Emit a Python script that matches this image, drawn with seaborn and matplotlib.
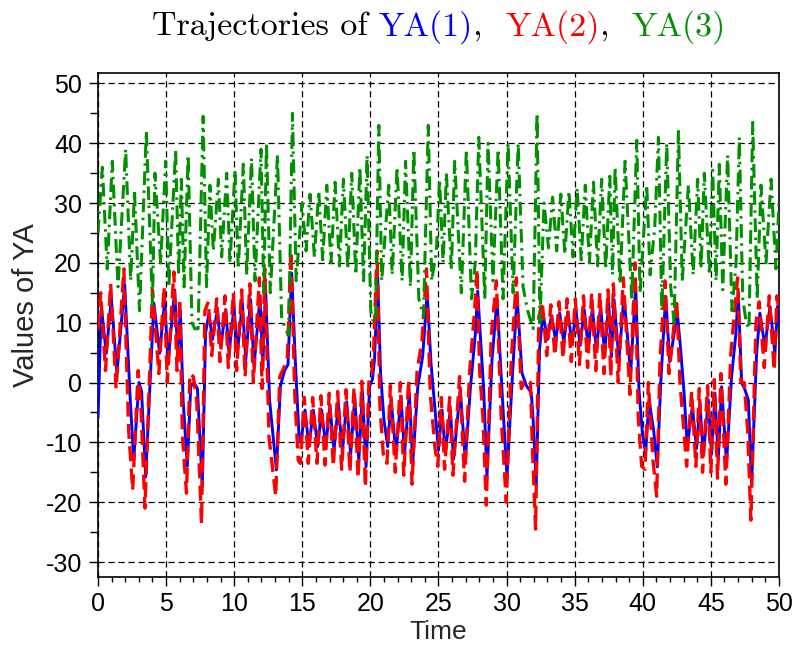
import matplotlib
matplotlib.use("Agg")
import matplotlib.pyplot as plt
from matplotlib.ticker import MultipleLocator
import numpy as np
import pandas as pd
import seaborn as sns

# YA(1): turning points (time, value)
ya1_t = [0.00, 0.24, 0.61, 0.98, 1.39, 1.96, 2.35, 2.62, 3.01, 3.20, 3.50, 4.10, 4.53, 4.90, 5.14,
         5.63, 5.85, 6.05, 6.25, 6.56, 6.81, 7.05, 7.30, 7.66, 7.90, 8.15, 8.40, 8.77, 9.01, 9.38,
         9.62, 9.99, 10.23, 10.60, 10.85, 11.20, 11.46, 11.90, 12.10, 12.30, 12.60, 13.10, 13.40,
         13.70, 13.95, 14.22, 14.50, 14.75, 14.90, 15.20, 15.49, 15.81, 16.13, 16.42, 16.72, 17.03,
         17.33, 17.65, 17.94, 18.26, 18.55, 18.85, 19.15, 19.42, 19.68, 19.95, 20.15, 20.30, 20.54,
         20.75, 21.00, 21.27, 21.52, 21.88, 22.25, 22.50, 22.86, 23.11, 23.48, 23.84, 24.17, 24.45,
         24.80, 25.00, 25.26, 25.50, 25.87, 26.11, 26.60, 26.97, 27.34, 27.70, 27.88, 28.07, 28.32,
         28.56, 28.93, 29.30, 29.66, 30.03, 30.40, 30.77, 31.13, 31.45, 31.81, 31.93, 32.18, 32.42,
         32.67, 33.00, 33.30, 33.60, 33.90, 34.20, 34.50, 34.80, 35.10, 35.40, 35.70, 36.00, 36.30,
         36.60, 36.90, 37.20, 37.50, 37.70, 37.89, 38.25, 38.62, 39.11, 39.48, 39.72, 39.97, 40.21,
         40.46, 40.80, 41.07, 41.32, 41.68, 41.98, 42.54, 42.78, 43.03, 43.27, 43.64, 43.95, 44.20,
         44.44, 44.81, 45.05, 45.30, 45.54, 45.79, 46.15, 46.52, 46.83, 47.01, 47.26, 47.50, 47.75,
         47.99, 48.36, 48.60, 48.97, 49.34, 49.70, 49.90, 50.00]
ya1_v = [-6, 12.7, 4.9, 14.1, 1.6, 16.4, -2, -13, 0, -1.5, -15.8, 13.3, 4.9, 13.9, 3.2,
         15.5, 5, 12, -3, -14, -0.7, 0, -1, -17.4, 8.3, 11.6, 7.2, 12.2, 6.0, 12.2,
         4.9, 12.7, 4.9, 13.3, 3.8, 13.9, 2.7, 14.5, 2.5, 16.0, -3, -14.6, -0.5,
         2, 3, 18.3, 3, -8.5, -10, -4.6, -10.7, -4.6, -10.7, -4.6, -10.7, -4.0,
         -11.3, -3.5, -11.7, -3.2, -12, -2.5, -13, -1.5, -14.1, -0.5, 0.5, 3.8, 17.5,
         1.5, -6.3, -10.7, -2.9, -12, -2.3, -12, -1.8, -13.5, -0.7, 4.4, 15, 3.3,
         -5.9, -11.3, -4.6, -11.8, -4.6, -12.8, -1.2, -13, -1, 8, 15.3, 8, -1.2,
         -15.8, 3.8, 13.9, -1.2, -15.8, 0, 14.4, 1.6, -0.5, -1.7, -5.4, -16.9, 5.5,
         11.6, 7.2, 11.2, 7.0, 11.6, 6.8, 11.8, 6.5, 12, 6.2, 12.2, 5.8, 12.5,
         5.2, 12.8, 4.8, 13.3, 4.3, 13.9, 3.8, 14.4, 1.6, 16, -1.2, -8.4, -11.8,
         -2.9, -8, -14.1, 0, 14.4, 3.5, 11.6, 5.5, -1.7, -10.7, -4, -11, -3.4,
         -12.3, -2.9, -12, -1.8, -13, -0.7, -13.5, 1, 8, 15, 0, -1.2, -2.9,
         -16.9, 4.9, 11.6, 6, 12.7, 4.9, 12.7, 10]

# YA(2)
ya2_t = [0.00, 0.20, 0.55, 0.93, 1.33, 1.90, 2.25, 2.55, 2.95, 3.15, 3.45, 4.00, 4.47, 4.85, 5.09,
         5.57, 5.80, 6.00, 6.20, 6.50, 6.75, 7.00, 7.25, 7.60, 7.85, 8.10, 8.35, 8.72, 8.96, 9.33,
         9.57, 9.94, 10.18, 10.55, 10.80, 11.15, 11.41, 11.85, 12.05, 12.25, 12.55, 13.05, 13.35,
         13.65, 13.90, 14.17, 14.45, 14.70, 14.85, 15.15, 15.44, 15.76, 16.08, 16.37, 16.67, 16.98,
         17.28, 17.60, 17.89, 18.21, 18.50, 18.80, 19.10, 19.37, 19.63, 19.90, 20.10, 20.25, 20.49,
         20.70, 20.95, 21.22, 21.47, 21.83, 22.20, 22.45, 22.81, 23.06, 23.43, 23.79, 24.12, 24.40,
         24.75, 24.95, 25.21, 25.45, 25.82, 26.06, 26.55, 26.92, 27.29, 27.65, 27.83, 28.02, 28.27,
         28.51, 28.88, 29.25, 29.61, 29.98, 30.35, 30.72, 31.08, 31.40, 31.76, 31.88, 32.13, 32.37,
         32.62, 32.95, 33.25, 33.55, 33.85, 34.15, 34.45, 34.75, 35.05, 35.35, 35.65, 35.95, 36.25,
         36.55, 36.85, 37.15, 37.45, 37.65, 37.84, 38.20, 38.57, 39.06, 39.43, 39.67, 39.92, 40.16,
         40.41, 40.75, 41.02, 41.27, 41.63, 41.93, 42.49, 42.73, 42.98, 43.22, 43.59, 43.90, 44.15,
         44.39, 44.76, 45.00, 45.25, 45.49, 45.74, 46.10, 46.47, 46.78, 46.96, 47.21, 47.45, 47.70,
         47.94, 48.31, 48.55, 48.92, 49.29, 49.65, 49.85, 50.00]
ya2_v = [9, 15, 2, 16.5, -1, 19, -8, -18, 2, -4, -21, 15.5, 1.5, 16, 0,
         18.5, 2, 14, -9, -18.5, 1.5, 1, -3, -23.6, 12, 13.5, 4.5, 14, 3.5, 14.5,
         2.5, 15, 2, 15.5, 1, 16.5, 0, 17.5, -1, 19, -9, -19, 1,
         2.5, 4, 22, -2, -13, -13.5, -2.5, -13.5, -2.5, -13.5, -2.2, -13.8, -1.8,
         -14, -1.5, -14.5, -1.2, -15, -0.8, -16, 0.2, -17.5, 0.5, 1.5, 6, 22,
         -4, -12, -13.5, -0.5, -15, 0, -15.5, 0.5, -17, 2, 7, 19, -2,
         -11, -14, -2.5, -14.5, -2.5, -15.5, 1, -16.5, 2, 12, 19, 2, -6,
         -20.5, 8, 17, -6, -20, 4, 17.5, -1, 0.5, 0, -10, -24.5, 11,
         13.5, 4.5, 13, 4.5, 13.5, 4, 14, 3.5, 14, 3, 14.5, 2.5, 15,
         2, 15, 1.5, 15.5, 1, 16.5, 0, 17.5, -2, 20, -6, -14, -14.5,
         0, -13, -19, 4, 17, 1.5, 14, 0, -7, -14, -1.5, -14, -1,
         -15, -0.5, -15, 0.5, -16, 1.5, -17, 5, 13, 17.5, 0, 0, -8,
         -23, 10, 13.5, 2.5, 14.5, 2, 14.5, 12]

# YA(3)
ya3_t = [0.00, 0.32, 0.68, 1.05, 1.47, 2.03, 2.40, 2.68, 3.05, 3.55, 4.00, 4.18, 4.60, 4.97, 5.20,
         5.70, 5.92, 6.12, 6.32, 6.62, 6.90, 7.10, 7.35, 7.72, 7.97, 8.22, 8.47, 8.84, 9.08, 9.45,
         9.69, 10.06, 10.30, 10.67, 10.92, 11.27, 11.53, 11.97, 12.17, 12.37, 12.65, 13.18, 13.48,
         13.75, 14.00, 14.28, 14.55, 14.98, 15.28, 15.57, 15.89, 16.21, 16.50, 16.80, 17.11, 17.41,
         17.73, 18.02, 18.34, 18.63, 18.93, 19.23, 19.50, 19.76, 20.03, 20.23, 20.38, 20.62, 20.83,
         21.35, 21.60, 21.96, 22.33, 22.58, 22.94, 23.19, 23.56, 23.90, 24.25, 24.50, 24.85, 25.08,
         25.34, 25.58, 25.95, 26.19, 26.68, 27.05, 27.42, 27.70, 27.96, 28.40, 28.64, 29.00, 29.38,
         29.74, 30.11, 30.48, 30.85, 31.21, 31.55, 31.95, 32.24, 32.45, 32.75, 33.08, 33.38, 33.68,
         33.98, 34.28, 34.58, 34.88, 35.18, 35.48, 35.78, 36.08, 36.38, 36.68, 36.98, 37.28, 37.58,
         37.78, 37.97, 38.33, 38.70, 39.19, 39.56, 39.80, 40.29, 40.54, 40.88, 41.15, 41.40, 41.76,
         42.05, 42.30, 42.62, 42.90, 43.35, 43.70, 44.03, 44.28, 44.52, 44.89, 45.13, 45.38, 45.62,
         45.87, 46.23, 46.55, 46.85, 47.09, 47.34, 47.60, 47.80, 48.07, 48.40, 48.68, 49.05, 49.42,
         49.78, 50.00]
ya3_v = [25, 36, 19, 37, 16, 39, 17, 32, 12, 42, 13, 35, 20, 37, 16,
         39, 18, 34, 16, 38, 10, 9, 9, 44.5, 16, 33, 22, 34, 21, 35,
         20, 35.5, 19, 36.5, 18, 37.5, 17, 39, 15, 40, 15, 38, 11,
         9, 8, 45, 17, 30, 22, 31.5, 21, 32, 20.5, 33, 20, 33.5,
         19.5, 34, 19, 35, 18, 36, 17, 38, 12, 10, 11, 43, 17,
         33, 18, 36, 17, 37, 16, 39, 14, 11, 43, 17, 22, 34,
         20, 35, 19, 37, 15, 39, 14, 20, 41, 14, 40, 17, 39,
         14, 40, 15, 40, 16, 12, 9, 45, 10, 30, 22.5, 31, 22,
         31.5, 21.5, 32, 21, 32.5, 20.5, 33, 20, 33.5, 19.5, 34, 19, 34.5,
         18, 36, 16.5, 37, 14, 40.5, 15, 33, 18, 26, 41, 12, 40,
         16, 10, 42, 17, 33, 18, 34, 19, 35, 18, 35.5, 17, 36.5,
         15.5, 38, 12, 20, 41, 14, 10, 9, 43.5, 14, 33, 20, 34,
         19, 30]

X_TICKS = list(range(0, 51, 5))
Y_TICKS = list(range(-30, 51, 10))

sns.set_style("ticks")
plt.rcParams["font.family"] = ["Liberation Sans", "DejaVu Sans"]
plt.rcParams["axes.unicode_minus"] = False

fig = plt.figure(figsize=(7.96, 6.49), dpi=100)
ax = fig.add_axes([0.1231, 0.1110, 0.8555, 0.7770])

green = "#009000"
df1 = pd.DataFrame({"t": ya1_t, "v": ya1_v})
df2 = pd.DataFrame({"t": ya2_t, "v": ya2_v})
df3 = pd.DataFrame({"t": ya3_t, "v": ya3_v})

sns.lineplot(data=df1, x="t", y="v", ax=ax, color="#0000ff", linewidth=2.1,
             estimator=None, sort=False, zorder=3)
sns.lineplot(data=df2, x="t", y="v", ax=ax, color="#ff0000", linewidth=2.4,
             estimator=None, sort=False, zorder=4)
ax.lines[-1].set_linestyle((0, (4.5, 2.2)))
sns.lineplot(data=df3, x="t", y="v", ax=ax, color=green, linewidth=2.2,
             estimator=None, sort=False, zorder=5)
ax.lines[-1].set_linestyle((0, (4.5, 1.8, 0.8, 1.8)))

ax.set_xlim(0, 50)
ax.set_ylim(-32.5, 51.8)
ax.set_xticks(X_TICKS)
ax.set_yticks(Y_TICKS)
ax.xaxis.set_minor_locator(MultipleLocator(1))
ax.yaxis.set_minor_locator(MultipleLocator(5))
ax.tick_params(axis="both", which="major", direction="out", length=6.5, width=1,
               labelsize=18, color="black", labelcolor="black")
ax.tick_params(axis="x", which="major", pad=4)
ax.tick_params(axis="y", which="major", pad=5)
ax.tick_params(axis="x", which="minor", direction="out", length=3.5, width=1, color="black")
ax.tick_params(axis="y", which="minor", direction="out", length=5.5, width=1, color="black")
ax.grid(True, which="major", color="black", linestyle=(0, (5, 3)), linewidth=0.9)
for s in ax.spines.values():
    s.set_color("black")
    s.set_linewidth(1.2)

ax.set_xlabel("Time", fontsize=19, va="center")
ax.set_ylabel("Values of YA", fontsize=21, va="center")
ax.xaxis.set_label_coords(0.5, -0.109)
ax.yaxis.set_label_coords(-0.105, 0.539)

# coloured title pieces, laid out side by side
pieces = [("Trajectories of ", "black"), ("YA(1)", "#0000ff"), (",  ", "black"),
          ("YA(2)", "#ff0000"), (",  ", "black"), ("YA(3)", green)]
fig.canvas.draw()
renderer = fig.canvas.get_renderer()
texts = []
for s, c in pieces:
    tx = fig.text(0, 0.946, s, color=c, fontsize=24.5, family="cmr10", va="baseline")
    texts.append(tx)
widths = [tx.get_window_extent(renderer).width for tx in texts]
W = fig.get_figwidth() * fig.dpi
x = 439 - sum(widths) / 2
for tx, w in zip(texts, widths):
    tx.set_x(x / W)
    x += w

fig.savefig("out.png", dpi=100)
